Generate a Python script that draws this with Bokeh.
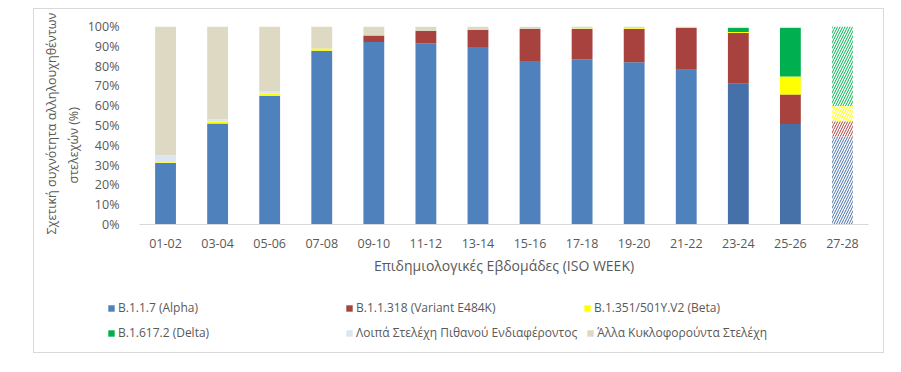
import numpy as np
from bokeh.plotting import figure
from bokeh.models import (ColumnDataSource, FactorRange, FixedTicker, PrintfTickFormatter,
                          Legend, LegendItem, Spacer, Title, Range1d)
from bokeh.layouts import row, column
from bokeh.embed import file_html
from bokeh.resources import INLINE

# ---------------- data (percent of sequenced strains) ----------------
weeks = ["01-02", "03-04", "05-06", "07-08", "09-10", "11-12", "13-14",
         "15-16", "17-18", "19-20", "21-22", "23-24", "25-26", "27-28"]
alpha = [31.0, 51.0, 65.0, 87.7, 92.2, 91.5, 89.6, 82.6, 83.4, 81.9, 78.1, 71.1, 50.7, 44.4]
e484k = [0.0, 0.0, 0.0, 0.0, 3.3, 6.2, 8.7, 16.2, 15.3, 16.9, 21.1, 25.6, 15.0, 7.7]
beta = [0.4, 1.1, 1.2, 1.2, 0.0, 0.0, 0.0, 0.0, 0.3, 0.3, 0.0, 0.5, 9.1, 7.8]
delta = [0.0, 0.0, 0.0, 0.0, 0.0, 0.0, 0.0, 0.0, 0.0, 0.0, 0.0, 2.0, 24.4, 40.1]
interest = [3.6, 1.0, 1.0, 0.0, 0.0, 0.0, 0.0, 0.0, 0.0, 0.0, 0.0, 0.4, 0.8, 0.0]
others = [65.0, 46.9, 32.8, 11.1, 4.5, 2.3, 1.7, 1.2, 1.0, 0.9, 0.8, 0.4, 0.0, 0.0]
projected = [False] * 13 + [True]

series_names = ["B.1.1.7 (Alpha)", "B.1.1.318 (Variant E484K)", "B.1.351/501Y.V2 (Beta)",
                "B.1.617.2 (Delta)", "Λοιπά Στελέχη Πιθανού Ενδιαφέροντος",
                "Άλλα Κυκλοφορούντα Στελέχη"]
y_ticks = [0, 10, 20, 30, 40, 50, 60, 70, 80, 90, 100]

x_title = "Επιδημιολογικές Εβδομάδες (ISO WEEK)"
y_title_lines = ["Σχετική συχνότητα αλληλουχηθέντων", "στελεχών (%)"]

# ---------------- styles ----------------
colors = ["#4F81BD", "#A8423F", "#FFFF00", "#00B050", "#DCE6F2", "#DDD9C3"]
alpha_dark = "#4670A8"
FONT = "Open Sans"
TXT = "#595959"
BORDER = "1px solid #D9D9D9"

p = figure(x_range=FactorRange(factors=weeks, range_padding=0), y_range=(0, 100),
           width=851, height=268, output_backend="svg", toolbar_location=None,
           min_border_left=105, min_border_right=17, min_border_top=17, min_border_bottom=50)
p.styles = {"border-top": BORDER, "border-left": BORDER, "border-right": BORDER}
p.frame_align = False

series = [alpha, e484k, beta, delta, interest, others]
vals = np.array(series, dtype=float)
tops = np.cumsum(vals, axis=0)
bottoms = tops - vals

solid_idx = [i for i, pr in enumerate(projected) if not pr]
proj_idx = [i for i, pr in enumerate(projected) if pr]

sources = []
for k in range(len(series)):
    fills = []
    for i in solid_idx:
        if k == 0 and weeks[i] in ("23-24", "25-26"):
            fills.append(alpha_dark)
        else:
            fills.append(colors[k])
    src = ColumnDataSource(dict(x=[weeks[i] for i in solid_idx],
                                bottom=[bottoms[k, i] for i in solid_idx],
                                top=[tops[k, i] for i in solid_idx],
                                fill=fills))
    sources.append(src)
    p.vbar(x="x", bottom="bottom", top="top", width=0.4, source=src,
           fill_color="fill", line_color=None)
    hsrc = ColumnDataSource(dict(x=[weeks[i] for i in proj_idx],
                                 bottom=[bottoms[k, i] for i in proj_idx],
                                 top=[tops[k, i] for i in proj_idx]))
    p.vbar(x="x", bottom="bottom", top="top", width=0.4, source=hsrc,
           fill_color="white", line_color=None, hatch_pattern="/",
           hatch_color=colors[k] if k != 0 else alpha_dark, hatch_scale=5, hatch_weight=1)

# axes
p.xgrid.grid_line_color = None
p.ygrid.grid_line_color = None
p.outline_line_color = None

p.yaxis.ticker = FixedTicker(ticks=y_ticks)
p.yaxis.formatter = PrintfTickFormatter(format="%d%%")
p.yaxis.axis_line_color = None
p.yaxis.major_tick_line_color = None
p.yaxis.minor_tick_line_color = None
p.yaxis.major_label_standoff = 14

p.xaxis.axis_line_color = "#D9D9D9"
p.xaxis.major_tick_line_color = None
p.xaxis.minor_tick_line_color = None
p.xaxis.major_label_standoff = 8
p.xaxis.axis_label = x_title
p.xaxis.axis_label_standoff = 5

for ax in (p.xaxis[0], p.yaxis[0]):
    ax.major_label_text_font = FONT
    ax.major_label_text_font_size = "12.5px"
    ax.major_label_text_color = TXT
    ax.axis_label_text_font = FONT
    ax.axis_label_text_font_style = "normal"
    ax.axis_label_text_color = TXT
p.xaxis.axis_label_text_font_size = "14px"

# y-axis title as two rotated lines in the left panel
for text, off, stand in ((y_title_lines[1], 41, 5), (y_title_lines[0], -10, 1)):
    p.add_layout(Title(text=text, align="left", offset=off, standoff=stand,
                       text_font=FONT, text_font_size="12.5px", text_font_style="normal",
                       text_color=TXT), "left")

# ---------------- legend strip (separate canvas below the chart) ----------------
lf = figure(width=851, height=77, output_backend="svg", toolbar_location=None,
            x_range=p.x_range, y_range=Range1d(200, 300),
            x_axis_type=None, y_axis_type=None, min_border=0)
lf.styles = {"border-bottom": BORDER, "border-left": BORDER, "border-right": BORDER}
lf.frame_align = False
lf.grid.grid_line_color = None
lf.outline_line_color = None
lrs = [lf.vbar(x="x", bottom="bottom", top="top", width=0.4, source=sources[k],
               fill_color="fill", line_color=None) for k in range(6)]

for row_items, vy in (([0, 1, 2], 37), ([3, 4, 5], 12)):
    leg = Legend(items=[LegendItem(label=series_names[k], renderers=[lrs[k]]) for k in row_items],
                 location=(73, vy), orientation="horizontal",
                 glyph_width=8, glyph_height=8, label_standoff=3, label_width=218,
                 label_height=16, spacing=9, padding=0, margin=0,
                 border_line_alpha=0, background_fill_alpha=0,
                 label_text_font=FONT, label_text_font_size="12px",
                 label_text_color=TXT)
    lf.add_layout(leg, "center")

layout = column(Spacer(width=10, height=8),
                row(Spacer(width=33, height=345), column(p, lf, spacing=0), spacing=0),
                spacing=0)
open("out.html", "w").write(file_html(layout, INLINE))
